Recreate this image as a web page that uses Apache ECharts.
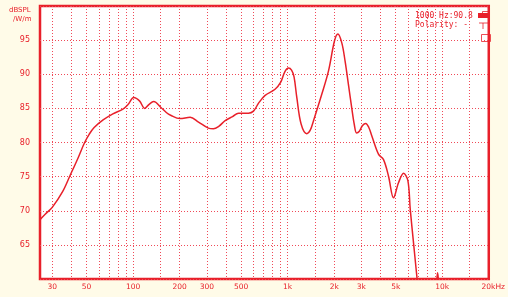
<!DOCTYPE html>
<html>
<head>
<meta charset="utf-8">
<script src="https://cdn.jsdelivr.net/npm/echarts@6/dist/echarts.min.js"></script>
<style>
html,body{margin:0;padding:0;background:#fffbe8;}
#c{width:508px;height:297px;}
</style>
</head>
<body>
<div id="c"></div>
<script>
// Frequency (Hz) and SPL (dB)
const freqs = [25,27,30,35,39,44,48.6,52,56,64,74,86,93,101,110,119,127,136,152,164,175,201,234,265,307,331,360,394,440,481,558,601,650,715,829,900,960,1012,1060,1100,1146,1222,1330,1400,1470,1664,1838,2010,2113,2240,2350,2480,2600,2700,2790,2900,3050,3200,3350,3500,3868,4170,4490,4840,5213,5620,5995,6210,6520,6850,7100,8000,8900,9330,9800,11000,20000];
const spl = [68.7,69.5,70.5,72.8,75.1,77.7,80,81.2,82.2,83.3,84.2,84.9,85.6,86.6,86.1,85.0,85.6,86.0,85.1,84.4,84.0,83.5,83.7,83.0,82.1,82.0,82.4,83.2,83.8,84.3,84.3,84.6,85.8,86.9,87.8,88.8,90.4,90.9,90.6,89.6,86.6,82.7,81.3,81.8,83.2,87.1,90.5,94.9,95.9,94.6,92.0,88.3,85.0,82.6,81.4,81.6,82.5,82.8,82.2,81.0,78.3,77.5,75.1,71.9,74.1,75.5,74.4,70.2,65.3,60.4,57,55,56,60.9,56,54,54];
const gridFreqs = [30,40,50,60,70,80,90,100,150,200,300,400,500,600,700,800,900,1000,1500,2000,3000,4000,5000,6000,7000,8000,9000,10000,15000];
const labelFreqs = [30,50,100,200,300,500,1000,2000,3000,5000,10000,20000];
const yTicks = [65,70,75,80,85,90,95];
const infoLines = ['1000 Hz:90.8', 'Polarity: -'];

const RED = '#e8202a';
const GRID = '#f04a58';
const chart = echarts.init(document.getElementById('c'), null, {renderer:'canvas'});
chart.setOption({
  backgroundColor: '#fffbe8',
  animation: false,
  grid: {left:40, right:17, top:6, bottom:18, show:true, backgroundColor:'#ffffff', borderColor:RED, borderWidth:2.5},
  xAxis: {
    type:'log', logBase:10, min:25, max:20000,
    axisLine:{show:false},
    axisTick:{show:false, customValues: gridFreqs},
    splitLine:{show:true, lineStyle:{color:GRID, width:1, type:[1,2]}},
    axisLabel:{
      customValues: labelFreqs, margin:4,
      color:RED, fontFamily:'DejaVu Sans', fontSize:7.5,
      formatter: v => {
        if (v >= 20000) return '{last|20kHz}';
        return v >= 1000 ? (v/1000)+'k' : String(v);
      },
      rich:{last:{color:RED, fontFamily:'DejaVu Sans', fontSize:7.5, padding:[0,0,0,9]}}
    }
  },
  yAxis: {
    type:'value', min:60, max:100, interval:5,
    axisLine:{show:false}, axisTick:{show:false},
    splitLine:{show:true, lineStyle:{color:GRID, width:1, type:[1,2]}},
    axisLabel:{
      margin:10, color:RED, fontFamily:'DejaVu Sans', fontSize:8,
      formatter: v => yTicks.indexOf(v) >= 0 ? String(v) : ''
    }
  },
  graphic: [
    {type:'text', left:9, top:7, style:{text:'dBSPL', fill:RED, font:'7px DejaVu Sans'}},
    {type:'text', left:13, top:16, style:{text:'/W/m', fill:RED, font:'7px DejaVu Sans'}},
    {type:'text', left:415, top:12, style:{text:infoLines.join('\n'), fill:RED, font:'8px DejaVu Sans Mono', lineHeight:8.5}},
    {type:'rect', left:478, top:13, shape:{width:10, height:5}, style:{fill:RED}},
    {type:'rect', left:480, top:9, shape:{width:6, height:3}, style:{fill:'none', stroke:RED, lineWidth:0.8}},
    {type:'line', shape:{x1:479, y1:23, x2:488, y2:23}, style:{stroke:RED, lineWidth:0.8}},
    {type:'line', shape:{x1:483, y1:23, x2:483, y2:29}, style:{stroke:RED, lineWidth:0.8}},
    {type:'rect', left:479, top:32, shape:{width:9, height:7}, style:{fill:'none', stroke:RED, lineWidth:0.8}}
  ],
  series: [{
    type:'line', data: freqs.map((f,i)=>[f, spl[i]]),
    smooth:0.35, showSymbol:false, clip:true,
    lineStyle:{color:RED, width:1.5}
  }]
});
</script>
</body>
</html>
